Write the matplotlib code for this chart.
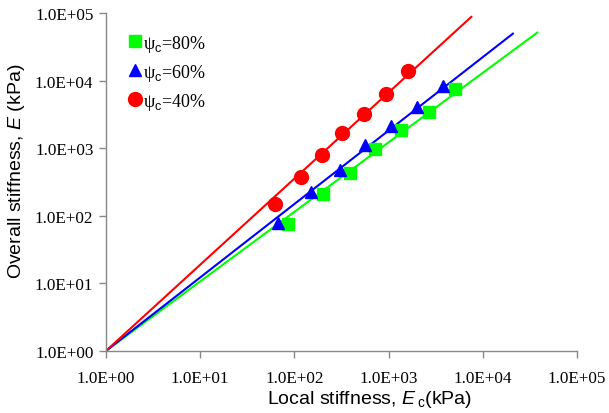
import matplotlib
matplotlib.use("Agg")
import matplotlib.pyplot as plt
import numpy as np

plt.rcParams['mathtext.fontset'] = 'custom'
plt.rcParams['mathtext.rm'] = 'Liberation Sans'
plt.rcParams['mathtext.it'] = 'Liberation Sans:italic'

# measured points: local stiffness Ec (kPa) vs overall stiffness E (kPa)
ec_80 = [85, 199, 386, 712, 1367, 2682, 5108]
e_80 = [76, 212, 434, 984, 1835, 3437, 7431]
ec_60 = [67, 149, 303, 558, 1071, 2020, 3776]
e_60 = [79, 224, 469, 1100, 2104, 4077, 8345]
ec_40 = [62, 117, 197, 321, 545, 948, 1606]
e_40 = [147, 374, 801, 1679, 3244, 6417, 13740]

# fitted power-law lines, drawn from (1, 1) to the end points below
fit_x_end = {'80': 37840, '60': 20850, '40': 7550}
fit_y_end = {'80': 51400, '60': 49600, '40': 87900}

labels = ['ψ$_{\\mathrm{c}}$=80%', 'ψ$_{\\mathrm{c}}$=60%', 'ψ$_{\\mathrm{c}}$=40%']
colors = ['#00ff00', '#0000ff', '#ff0000']
xticks = [1e0, 1e1, 1e2, 1e3, 1e4, 1e5]
tick_labels = ['1.0E+00', '1.0E+01', '1.0E+02', '1.0E+03', '1.0E+04', '1.0E+05']

fig = plt.figure(figsize=(6.09, 4.14), dpi=100)
ax = fig.add_axes([0.174, 0.150, 0.7735, 0.816])

series = [('80', ec_80, e_80, 's', 8), ('60', ec_60, e_60, '^', 9), ('40', ec_40, e_40, 'o', 10)]
handles = []
for (key, xs, ys, mk, ms), col, lab in zip(series, colors, labels):
    ax.plot([1, fit_x_end[key]], [1, fit_y_end[key]], color=col, lw=1.5, zorder=2)
    h, = ax.plot(xs, ys, ls='none', marker=mk, ms=ms, color=col, mec=col, zorder=3, label=lab)
    handles.append(h)

ax.set_xscale('log')
ax.set_yscale('log')
ax.set_xlim(1, 1e5)
ax.set_ylim(1, 1e5)
ax.set_xticks(xticks)
ax.set_xticklabels(tick_labels)
ax.set_yticks(xticks)
ax.set_yticklabels(tick_labels)
ax.minorticks_off()

for s in ['top', 'right']:
    ax.spines[s].set_visible(False)
for s in ['left', 'bottom']:
    ax.spines[s].set_color('#888888')
    ax.spines[s].set_linewidth(1.0)
ax.tick_params(direction='out', length=5, color='#888888', width=1.0)
for t in ax.get_xticklabels() + ax.get_yticklabels():
    t.set_fontfamily('Liberation Serif')
    t.set_fontsize(12.3)
ax.tick_params(axis='x', pad=9)
ax.tick_params(axis='y', pad=4)

ax.set_xlabel('Local stiffness, $\\mathit{E}\\,_{\\mathrm{c}}$(kPa)', fontfamily='Liberation Sans', fontsize=14, labelpad=1)
ax.xaxis.label.set_x(0.5605)
ax.set_ylabel('Overall stiffness, $\\mathit{E}$ (kPa)', fontfamily='Liberation Sans', fontsize=14)
ax.yaxis.set_label_coords(-0.167, 0.535)

leg = ax.legend(handles=handles, loc='upper left', bbox_to_anchor=(0.02, 0.99), frameon=False,
                handlelength=0.4, handletextpad=0.24, labelspacing=0.44, numpoints=1,
                prop={'family': 'Liberation Serif', 'size': 13})

fig.savefig('out.png', dpi=100)
